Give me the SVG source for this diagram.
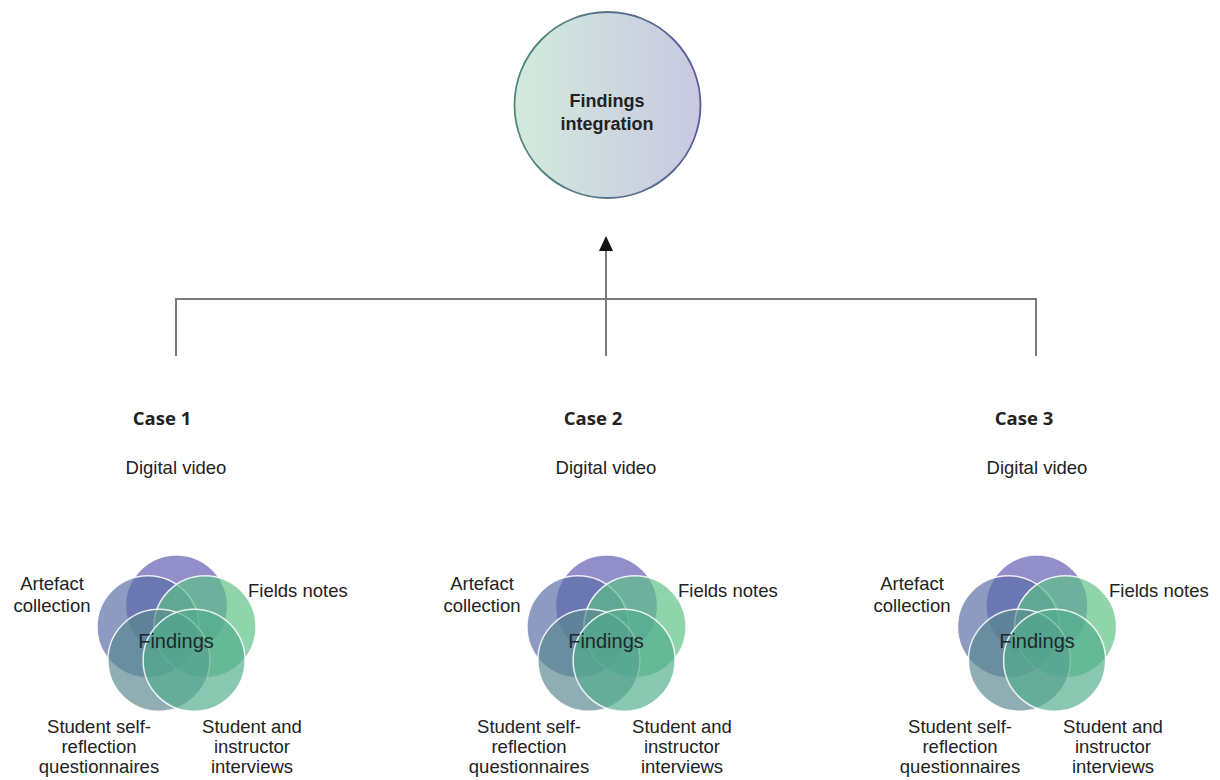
<svg xmlns="http://www.w3.org/2000/svg" width="1220" height="780" viewBox="0 0 1220 780">
<defs>
<style>
.lbl{font-family:"Liberation Sans",Arial,sans-serif;font-size:18.5px;fill:#222;}
.fnd{font-family:"Liberation Sans",Arial,sans-serif;font-size:20px;fill:#1e2a2a;}
.case{font-family:"Open Sans","DejaVu Sans",sans-serif;font-weight:bold;font-size:18.5px;fill:#222;}
.title{font-family:"Liberation Sans",Arial,sans-serif;font-weight:bold;font-size:18px;fill:#222;}
.conn{stroke:#7a7a7a;stroke-width:2;fill:none;}
.vc{stroke:#ffffff;stroke-width:1.5;stroke-opacity:0.85;fill-opacity:0.68;}
</style>
<linearGradient id="gBig" x1="0" y1="0" x2="1" y2="0">
<stop offset="0" stop-color="#d2eadb"/>
<stop offset="1" stop-color="#c9c8e2"/>
</linearGradient>
<linearGradient id="gStroke" x1="0" y1="0" x2="1" y2="0">
<stop offset="0" stop-color="#4f8a7a"/>
<stop offset="1" stop-color="#5a5a9a"/>
</linearGradient>
<g id="venn">
<circle class="vc" cx="0" cy="-30" r="51" fill="#5d58b0"/>
<circle class="vc" cx="-28.5" cy="-9.3" r="51" fill="#576ca6"/>
<circle class="vc" cx="28.5" cy="-9.3" r="51" fill="#5cc084"/>
<circle class="vc" cx="-17.6" cy="24.3" r="51" fill="#58878f"/>
<circle class="vc" cx="17.6" cy="24.3" r="51" fill="#52ac8c"/>
</g>
</defs>
<rect width="1220" height="780" fill="#ffffff"/>

<g id="connectors">
<polyline class="conn" points="176,356 176,299 1036,299 1036,356"/>
<line class="conn" x1="606" y1="356" x2="606" y2="250" stroke="#6a6a6a"/>
<path d="M606,236 L613,251 L599,251 z" fill="#111"/>
</g>

<g id="findings-integration">
<circle cx="607.5" cy="105" r="93" fill="url(#gBig)" stroke="url(#gStroke)" stroke-width="1.8"/>
<text class="title" x="607" y="107" text-anchor="middle">Findings</text>
<text class="title" x="607" y="130" text-anchor="middle">integration</text>
</g>

<g id="case1">
<text class="case" x="162" y="425" text-anchor="middle">Case 1</text>
<text class="lbl" x="176" y="474" text-anchor="middle">Digital video</text>
<use href="#venn" transform="translate(176.5,636)"/>
<text class="fnd" x="176" y="648" text-anchor="middle">Findings</text>
<text class="lbl" x="52" y="590" text-anchor="middle">Artefact</text>
<text class="lbl" x="52" y="612" text-anchor="middle">collection</text>
<text class="lbl" x="248" y="597">Fields notes</text>
<text class="lbl" x="99" y="733" text-anchor="middle">Student self-</text>
<text class="lbl" x="99" y="753" text-anchor="middle">reflection</text>
<text class="lbl" x="99" y="773" text-anchor="middle">questionnaires</text>
<text class="lbl" x="252" y="733" text-anchor="middle">Student and</text>
<text class="lbl" x="252" y="753" text-anchor="middle">instructor</text>
<text class="lbl" x="252" y="773" text-anchor="middle">interviews</text>
</g>

<g id="case2">
<text class="case" x="593" y="425" text-anchor="middle">Case 2</text>
<text class="lbl" x="606" y="474" text-anchor="middle">Digital video</text>
<use href="#venn" transform="translate(606.5,636)"/>
<text class="fnd" x="606" y="648" text-anchor="middle">Findings</text>
<text class="lbl" x="482" y="590" text-anchor="middle">Artefact</text>
<text class="lbl" x="482" y="612" text-anchor="middle">collection</text>
<text class="lbl" x="678" y="597">Fields notes</text>
<text class="lbl" x="529" y="733" text-anchor="middle">Student self-</text>
<text class="lbl" x="529" y="753" text-anchor="middle">reflection</text>
<text class="lbl" x="529" y="773" text-anchor="middle">questionnaires</text>
<text class="lbl" x="682" y="733" text-anchor="middle">Student and</text>
<text class="lbl" x="682" y="753" text-anchor="middle">instructor</text>
<text class="lbl" x="682" y="773" text-anchor="middle">interviews</text>
</g>

<g id="case3">
<text class="case" x="1024" y="425" text-anchor="middle">Case 3</text>
<text class="lbl" x="1037" y="474" text-anchor="middle">Digital video</text>
<use href="#venn" transform="translate(1037,636)"/>
<text class="fnd" x="1037" y="648" text-anchor="middle">Findings</text>
<text class="lbl" x="912" y="590" text-anchor="middle">Artefact</text>
<text class="lbl" x="912" y="612" text-anchor="middle">collection</text>
<text class="lbl" x="1109" y="597">Fields notes</text>
<text class="lbl" x="960" y="733" text-anchor="middle">Student self-</text>
<text class="lbl" x="960" y="753" text-anchor="middle">reflection</text>
<text class="lbl" x="960" y="773" text-anchor="middle">questionnaires</text>
<text class="lbl" x="1113" y="733" text-anchor="middle">Student and</text>
<text class="lbl" x="1113" y="753" text-anchor="middle">instructor</text>
<text class="lbl" x="1113" y="773" text-anchor="middle">interviews</text>
</g>
</svg>
